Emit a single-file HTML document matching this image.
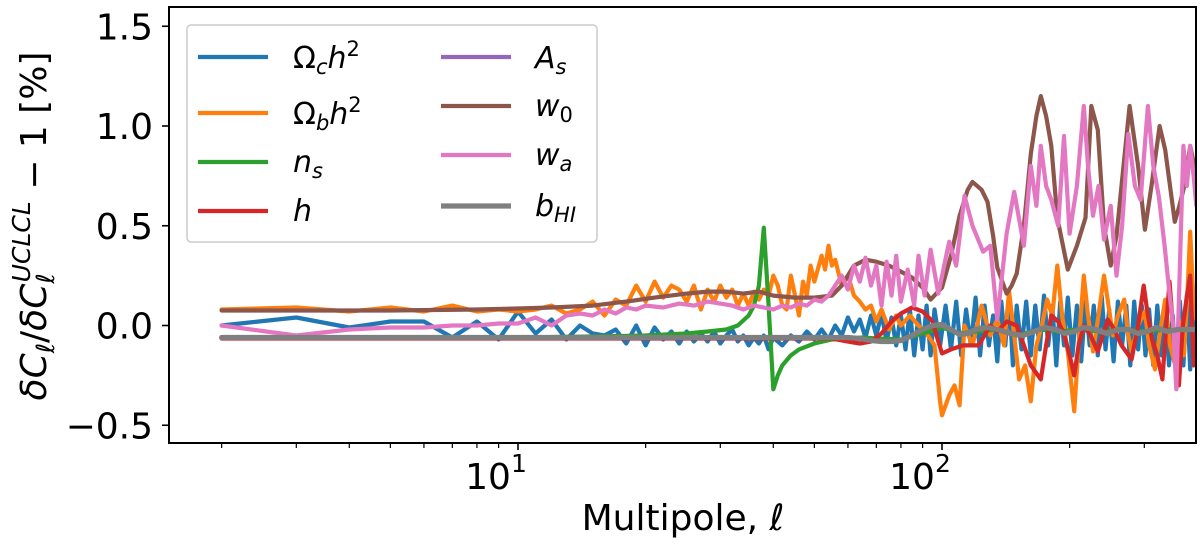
<!DOCTYPE html>
<html><head><meta charset="utf-8"><style>
html,body{margin:0;padding:0;background:#fff;}
svg{display:block;font-family:"DejaVu Sans","Liberation Sans",sans-serif;}
</style></head><body>
<svg id="chart" width="1200" height="548" viewBox="0 0 1200 548" xmlns="http://www.w3.org/2000/svg">
<defs><clipPath id="plotclip"><rect x="169" y="7" width="1027" height="436"/></clipPath></defs>
<g id="series" clip-path="url(#plotclip)"></g>
<g id="axes"></g>
<g id="legend"></g>
</svg>
<script>
// ---- data ----
const yTicks = [-0.5, 0.0, 0.5, 1.0, 1.5];
const yTickLabels = ["\u22120.5", "0.0", "0.5", "1.0", "1.5"];
const xMajor = [10, 100];
const xMinor = [2,3,4,5,6,7,8,9,20,30,40,50,60,70,80,90,200,300];

const ellBlue = [2,3,4,5,6,7,8,9,10,11,12,13,14,15,16,17,18,19,20,21,22,23,24,25,26,27,28,29,30,31,32,33,34,35,36,37,38,39,40,42,44,46,48,50,52,54,56,58,60,62,64,66,68,70,72,74,76,78,80,82,84,86,88,90,92,94,96,99,102,105,108,111,114,117,120,123,126,129,132,135,138,141,144,147,150,154,158,162,166,170,174,178,182,186,190,194,198,203,208,213,218,223,228,233,238,243,248,254,260,266,272,278,284,290,296,302,308,315,322,329,336,343,350,357,364,371,378,385,392,398];
const valBlue = [0.0,0.04,-0.01,0.02,0.02,-0.06,0.02,-0.07,0.07,-0.04,0.03,-0.07,0.0,-0.04,-0.05,-0.02,-0.09,0.0,-0.1,-0.01,-0.07,-0.03,-0.09,-0.03,-0.08,-0.04,-0.08,-0.03,-0.09,-0.05,-0.02,-0.08,-0.05,-0.1,-0.06,-0.09,-0.05,-0.12,-0.06,-0.1,-0.05,-0.08,-0.03,-0.07,-0.02,-0.07,0.0,-0.05,0.04,-0.03,0.03,-0.06,0.05,-0.05,0.06,-0.08,0.04,-0.1,0.05,-0.12,0.08,-0.15,0.05,-0.12,0.1,-0.15,0.08,-0.1,0.1,-0.12,0.12,-0.15,0.08,-0.1,0.14,-0.15,0.1,-0.1,0.05,-0.18,0.12,-0.1,0.15,-0.2,0.1,-0.12,0.12,-0.15,0.1,-0.12,0.15,-0.1,0.1,-0.2,0.12,-0.1,0.14,-0.15,0.1,-0.18,0.12,-0.1,0.1,-0.15,0.15,-0.12,0.08,-0.18,0.12,-0.1,0.1,-0.2,0.12,-0.12,0.1,-0.15,0.08,-0.2,0.1,-0.15,0.12,-0.2,0.05,-0.22,0.12,-0.2,0.15,-0.22,0.1,-0.15];

const ellOrange = [2,3,4,5,6,7,8,9,10,11,12,13,14,15,16,17,18,19,20,21,22,23,24,25,26,27,28,29,30,31,32,33,34,35,36,37,38,39,40,41,42,43,44,45,46,47,48,49,50,52,53,54,55,56,58,60,62,64,66,68,70,72,75,78,80,84,88,92,96,99,100,104,107,110,113,118,124,130,135,140,144,148,152,157,162,167,172,177,182,187,192,198,205,210,216,221,227,234,241,247,253,260,269,275,280,290,301,308,318,326,336,345,355,362,372,380,385,392,398];
const valOrange = [0.08,0.09,0.07,0.09,0.07,0.1,0.07,0.08,0.07,0.08,0.1,0.06,0.08,0.12,0.05,0.13,0.1,0.2,0.12,0.22,0.14,0.2,0.18,0.12,0.2,0.08,0.18,0.12,0.2,0.14,0.18,0.1,0.16,0.1,0.17,0.13,0.18,0.15,0.25,0.2,0.1,0.08,0.25,0.15,0.05,0.22,0.15,0.3,0.22,0.35,0.28,0.4,0.3,0.33,0.2,0.25,0.15,0.12,0.08,0.1,0.02,0.08,-0.02,0.05,0.0,0.05,0.0,-0.04,-0.1,-0.38,-0.45,-0.35,-0.3,-0.4,0.0,-0.1,0.1,-0.05,0.03,-0.1,0.17,-0.05,-0.27,-0.2,-0.38,-0.1,0.0,0.13,0.05,0.3,0.05,-0.13,-0.43,-0.1,0.25,0.05,-0.13,0.05,0.25,0.1,-0.05,0.05,0.13,-0.05,-0.13,0.0,0.07,-0.1,-0.22,-0.05,0.13,-0.1,-0.2,0.03,-0.15,0.2,0.47,0.1,0.03];

const ellGreen = [2,10,15,20,25,28,31,33,35,36,37,38,39,40,41,42,44,46,50,55,60,65,70,80,90,100,110,120,135,150,170,190,210,240,270,300,340,398];
const valGreen = [-0.06,-0.06,-0.055,-0.05,-0.04,-0.03,-0.02,0.0,0.05,0.1,0.2,0.49,0.1,-0.32,-0.25,-0.2,-0.15,-0.12,-0.09,-0.07,-0.065,-0.06,-0.065,-0.07,-0.04,-0.01,-0.04,-0.03,-0.02,-0.05,-0.02,-0.03,-0.02,-0.03,-0.02,-0.03,-0.02,-0.02];

const ellRed = [2,50,55,60,64,68,72,76,80,85,90,95,98,100,105,112,122,130,135,142,150,156,162,171,176,181,188,194,200,205,210,216,224,233,246,255,265,280,290,299,306,313,322,331,338,344,352,362,370,378,385,392,398];
const valRed = [-0.065,-0.065,-0.065,-0.08,-0.09,-0.08,-0.04,0.02,0.06,0.09,0.07,0.02,-0.08,-0.14,-0.12,-0.1,-0.1,0.0,-0.03,0.02,0.0,-0.1,-0.2,-0.27,-0.1,0.05,0.02,-0.04,-0.15,-0.25,-0.1,0.0,-0.05,-0.13,0.03,-0.02,-0.1,-0.17,0.0,0.2,0.05,-0.07,-0.15,-0.27,0.0,0.22,-0.05,-0.3,0.0,0.15,0.25,-0.2,-0.05];

const ellPurple = [2,60,64,68,72,76,80,85,90,95,100,105,110,115,120,128,135,145,155,165,175,185,195,205,215,230,245,260,275,290,305,320,340,360,380,398];
const valPurple = [-0.06,-0.06,-0.065,-0.075,-0.08,-0.08,-0.075,-0.05,-0.02,0.0,0.0,-0.02,-0.045,-0.04,-0.02,-0.01,-0.02,-0.04,-0.05,-0.03,-0.01,-0.02,-0.04,-0.03,-0.01,-0.02,-0.04,-0.02,-0.02,-0.04,-0.03,-0.01,-0.03,-0.02,-0.02,-0.02];

const ellBrown = [2,5,8,10,12,15,18,21,25,28,31,34,37,40,45,50,55,58,62,66,70,75,80,85,90,94,100,105,110,115,118,124,128,132,135,142,146,150,156,162,167,171,176,181,187,198,208,218,225,233,241,250,258,265,277,290,301,312,326,336,345,354,363,373,385,398];
const valBrown = [0.075,0.075,0.08,0.085,0.09,0.1,0.12,0.14,0.16,0.17,0.17,0.16,0.17,0.15,0.14,0.14,0.15,0.2,0.3,0.33,0.32,0.3,0.27,0.24,0.19,0.13,0.19,0.35,0.55,0.68,0.72,0.68,0.62,0.45,0.29,0.16,0.2,0.26,0.5,0.86,1.05,1.15,1.05,0.9,0.54,0.28,0.4,0.54,1.1,0.98,0.5,0.3,0.45,0.7,1.1,0.8,0.48,0.7,1.0,0.88,0.7,0.52,0.6,0.7,0.9,0.75];

const ellPink = [2,3,4,5,6,7,8,9,10,11,12,13,14,15,16,17,18,19,20,22,24,26,28,30,32,34,36,38,40,42,44,46,48,50,52,54,56,58,60,62,64,66,68,70,72,74,76,78,80,83,86,88,91,94,98,104,108,113,118,125,130,135,142,148,156,162,167,171,176,181,188,194,200,208,216,221,227,234,241,250,258,266,275,285,294,306,315,325,335,344,351,357,364,371,378,385,392,398];
const valPink = [0.0,-0.05,-0.02,-0.01,-0.01,0.0,0.0,0.01,0.01,0.04,0.0,0.05,0.06,0.05,0.08,0.06,0.09,0.08,0.1,0.09,0.11,0.1,0.12,0.11,0.1,0.08,0.1,0.09,0.08,0.1,0.09,0.11,0.1,0.13,0.12,0.15,0.2,0.25,0.18,0.3,0.22,0.34,0.2,0.3,0.1,0.32,0.15,0.35,0.12,0.28,0.1,0.35,0.15,0.38,0.16,0.42,0.3,0.65,0.5,0.37,0.4,0.03,0.46,0.67,0.4,0.8,0.6,0.9,0.7,0.63,0.5,0.95,0.46,0.7,1.1,0.8,0.55,0.7,0.43,0.6,0.25,0.5,0.96,0.7,0.63,1.1,0.8,0.64,0.4,0.16,0.0,-0.32,0.3,0.9,0.7,0.9,0.75,0.6];

const ellGray = [2,60,64,68,72,76,80,85,90,95,100,105,110,115,120,128,135,145,155,165,175,185,195,205,215,230,245,260,275,290,305,320,340,360,380,398];
const valGray = [-0.06,-0.06,-0.065,-0.075,-0.08,-0.08,-0.075,-0.05,-0.02,0.0,0.005,-0.02,-0.045,-0.04,-0.02,-0.01,-0.02,-0.04,-0.05,-0.03,-0.01,-0.02,-0.04,-0.03,-0.01,-0.02,-0.04,-0.02,-0.02,-0.04,-0.03,-0.01,-0.03,-0.02,-0.02,-0.02];

// ---- scales ----
const X0 = 518, DEC = 424;
function xs(l){ return X0 + DEC * Math.log10(l / 10); }
function ys(v){ return 325.5 - 199.5 * v; }
const NS = "http://www.w3.org/2000/svg";
function mk(tag, attrs, parent){
  const e = document.createElementNS(NS, tag);
  for (const k in attrs) e.setAttribute(k, attrs[k]);
  parent.appendChild(e); return e;
}
const gS = document.getElementById('series');
const gA = document.getElementById('axes');

function drawLine(ells, vals, color, name, w){
  let d = '';
  for (let i = 0; i < ells.length; i++) d += (i ? 'L' : 'M') + xs(ells[i]).toFixed(1) + ' ' + ys(vals[i]).toFixed(1);
  const p = mk('path', {d: d, fill: 'none', stroke: color, 'stroke-width': w, 'stroke-linejoin': 'round', 'stroke-linecap': 'round'}, gS);
  
  
}
drawLine(ellBlue, valBlue, '#1f77b4', 'line-omega-c-h2', 4.2);
drawLine(ellOrange, valOrange, '#ff7f0e', 'line-omega-b-h2', 4.2);
drawLine(ellGreen, valGreen, '#2ca02c', 'line-n-s', 4.2);
drawLine(ellRed, valRed, '#d62728', 'line-h', 4.2);
drawLine(ellPurple, valPurple, '#9467bd', 'line-a-s', 4.2);
drawLine(ellBrown, valBrown, '#8c564b', 'line-w0', 4.2);
drawLine(ellPink, valPink, '#e377c2', 'line-wa', 4.2);
drawLine(ellGray, valGray, '#7f7f7f', 'line-b-hi', 5.2);

// ---- axes ----
const frame = mk('rect', {x:169, y:7, width:1027, height:436, fill:'none', stroke:'#000', 'stroke-width':2}, gA);


for (let i = 0; i < yTicks.length; i++){
  const y = ys(yTicks[i]);
  const t = mk('line', {x1:162, x2:169, y1:y, y2:y, stroke:'#000', 'stroke-width':1.6}, gA);
  
  
  const lb = mk('text', {x:153, y:y+13, 'text-anchor':'end', 'font-size':36, fill:'#000'}, gA);
  lb.textContent = yTickLabels[i];
  
  
}
for (const l of xMinor){
  const x = xs(l);
  const t = mk('line', {x1:x, x2:x, y1:443, y2:448, stroke:'#000', 'stroke-width':1.2}, gA);
  
  
}
for (const l of xMajor){
  const x = xs(l);
  const t = mk('line', {x1:x, x2:x, y1:443, y2:450, stroke:'#000', 'stroke-width':1.6}, gA);
  
  
  const lb = mk('text', {x:x-22, y:489, 'text-anchor':'middle', 'font-size':36, fill:'#000'}, gA);
  
  
  lb.textContent = '10';
  const sp = mk('tspan', {'font-size':25, dy:-17}, lb);
  sp.textContent = String(Math.round(Math.log10(l)));
}
</script>
<svg style="position:absolute;left:0;top:0" width="1200" height="548" xmlns="http://www.w3.org/2000/svg" font-family="DejaVu Sans, Liberation Sans, sans-serif">
  <text x="683" y="530" text-anchor="middle" font-size="36">Multipole, <tspan font-style="italic">ℓ</tspan></text>
  <g transform="translate(46,226) rotate(-90)">
    <text x="0" y="0" text-anchor="middle" font-size="36"><tspan font-style="italic">δC</tspan><tspan font-style="italic" font-size="25" dy="8">ℓ</tspan><tspan dy="-8">/</tspan><tspan font-style="italic">δC</tspan><tspan font-style="italic" font-size="25" dy="8">ℓ</tspan><tspan font-style="italic" font-size="25" dx="-9" dy="-24">UCLCL</tspan><tspan dy="16"> − 1 [%]</tspan></text>
  </g>
  <g>
    <rect x="187" y="25" width="410" height="217" rx="4" fill="#fff" fill-opacity="0.85" stroke="#ccc" stroke-width="1.5"/>
    <g><line x1="198" x2="268" y1="57" y2="57" stroke="#1f77b4" stroke-width="4.2"/><text x="293" y="68" font-size="30">Ω<tspan font-style="italic" font-size="21" dy="6">c</tspan><tspan font-style="italic" dy="-6">h</tspan><tspan font-size="21" dy="-12">2</tspan></text></g>
    <g><line x1="198" x2="268" y1="113" y2="113" stroke="#ff7f0e" stroke-width="4.2"/><text x="293" y="124" font-size="30">Ω<tspan font-style="italic" font-size="21" dy="6">b</tspan><tspan font-style="italic" dy="-6">h</tspan><tspan font-size="21" dy="-12">2</tspan></text></g>
    <g><line x1="198" x2="268" y1="162" y2="162" stroke="#2ca02c" stroke-width="4.2"/><text x="293" y="172" font-size="30" font-style="italic">n<tspan font-size="21" dy="6">s</tspan></text></g>
    <g><line x1="198" x2="268" y1="211" y2="211" stroke="#d62728" stroke-width="4.2"/><text x="293" y="221" font-size="30" font-style="italic">h</text></g>
    <g><line x1="441" x2="511" y1="57" y2="57" stroke="#9467bd" stroke-width="4.2"/><text x="535" y="68" font-size="30" font-style="italic">A<tspan font-size="21" dy="6">s</tspan></text></g>
    <g><line x1="441" x2="511" y1="106" y2="106" stroke="#8c564b" stroke-width="4.2"/><text x="535" y="116" font-size="30" font-style="italic">w<tspan font-style="normal" font-size="21" dy="6">0</tspan></text></g>
    <g><line x1="441" x2="511" y1="155" y2="155" stroke="#e377c2" stroke-width="4.2"/><text x="535" y="165" font-size="30" font-style="italic">w<tspan font-size="21" dy="6">a</tspan></text></g>
    <g><line x1="441" x2="511" y1="206" y2="206" stroke="#7f7f7f" stroke-width="5.2"/><text x="535" y="216" font-size="30" font-style="italic">b<tspan font-size="21" dy="6">HI</tspan></text></g>
  </g>
</svg>
</body></html>
